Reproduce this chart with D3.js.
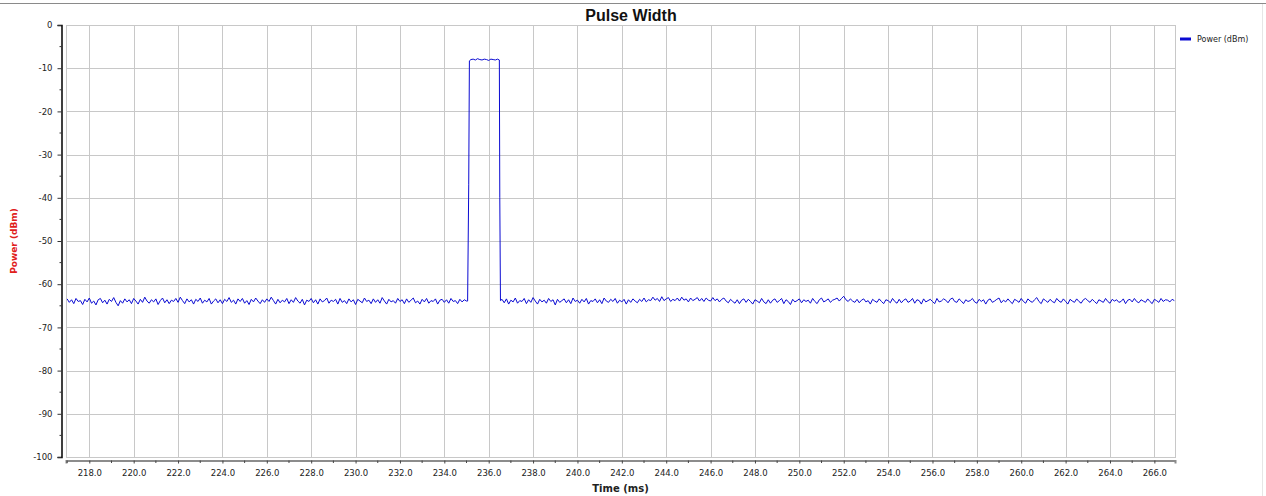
<!DOCTYPE html>
<html>
<head>
<meta charset="utf-8">
<script src="https://cdn.jsdelivr.net/npm/d3@7/dist/d3.min.js"></script>
<style>
  html, body { margin: 0; padding: 0; background: #fff; }
  svg { display: block; }
</style>
</head>
<body>
<svg id="chart" width="1266" height="496"></svg>
<script>
// ---------------- DATA ----------------
const chartTitle = "Pulse Width";
const xTitle = "Time (ms)";
const yTitle = "Power (dBm)";
const seriesName = "Power (dBm)";

const xTickValues = [218, 220, 222, 224, 226, 228, 230, 232, 234, 236, 238, 240, 242, 244, 246, 248, 250, 252, 254, 256, 258, 260, 262, 264, 266];
const yTickValues = [0, -10, -20, -30, -40, -50, -60, -70, -80, -90, -100];

// Noise floor before the pulse: samples every 0.1 ms from 217.0 ms
const beforeStart = 217.0;
const sampleStep = 0.1;
const powerBefore = [
-63.4,-64.2,-63.6,-64.5,-63.3,-64.0,-63.8,-64.7,-63.5,-64.1,
-63.2,-64.4,-63.9,-64.8,-63.6,-63.3,-64.3,-63.7,-64.6,-63.5,
-64.0,-63.1,-64.2,-65.0,-63.8,-64.4,-63.4,-64.1,-63.6,-64.5,
-63.3,-63.9,-64.6,-63.5,-64.2,-63.0,-63.9,-64.4,-63.6,-64.1,
-63.4,-64.7,-63.8,-63.2,-64.3,-63.6,-64.5,-63.7,-64.0,-63.3,
-64.2,-63.0,-63.8,-64.5,-63.4,-64.1,-63.6,-64.6,-63.5,-64.0,
-63.2,-64.4,-63.7,-64.1,-63.3,-64.6,-63.9,-63.4,-64.3,-63.6,
-64.5,-63.5,-64.0,-63.1,-64.2,-63.7,-64.6,-63.4,-64.0,-63.3,
-64.4,-63.8,-64.7,-63.5,-64.1,-63.2,-63.9,-64.5,-63.6,-64.2,
-63.4,-64.0,-63.0,-63.8,-64.6,-63.5,-64.3,-63.7,-64.1,-63.3,
-64.5,-63.6,-64.2,-63.1,-63.9,-64.4,-63.5,-64.8,-63.7,-64.0,
-63.3,-64.3,-63.6,-64.6,-63.4,-64.1,-63.8,-63.2,-64.4,-63.7,
-64.0,-63.5,-64.6,-63.3,-64.2,-63.8,-64.5,-63.4,-64.1,-63.6,
-64.7,-63.5,-63.9,-64.3,-63.2,-64.0,-63.7,-64.5,-63.4,-64.2,
-63.6,-64.4,-63.1,-63.9,-64.6,-63.5,-64.1,-63.8,-64.4,-63.3,
-64.0,-63.6,-64.5,-63.4,-64.2,-63.7,-63.2,-64.3,-63.9,-64.6,
-63.5,-64.1,-63.3,-64.4,-63.8,-64.0,-63.4,-64.6,-63.7,-63.5,
-64.2,-63.6,-64.4,-63.3,-64.0,-63.8,-64.5,-63.5,-64.1,-63.6,
-63.9
];

// The pulse itself (edges and flat top)
const pulseTime  = [235.05, 235.10, 235.13, 235.2, 235.3, 235.4, 235.5, 235.6, 235.7, 235.8, 235.9, 236.0, 236.1, 236.2, 236.3, 236.4, 236.48, 236.50, 236.53];
const pulsePower = [-63.9, -37.0, -8.3, -8.0, -7.9, -8.1, -7.8, -8.0, -8.1, -7.9, -8.0, -8.2, -7.9, -8.0, -8.1, -7.9, -8.1, -40.0, -63.8];

// Noise floor after the pulse: samples every 0.1 ms from 236.6 ms
const afterStart = 236.6;
const powerAfter = [
-63.5,-64.3,-63.4,-64.6,-63.7,-64.1,-63.2,-64.4,-63.8,-64.0,
-63.3,-64.5,-63.6,-64.2,-63.1,-63.9,-64.6,-63.5,-64.1,-63.7,
-64.4,-63.3,-64.0,-63.6,-64.8,-63.5,-64.2,-63.8,-63.4,-64.3,
-63.6,-64.5,-63.2,-64.0,-63.7,-64.4,-63.5,-64.1,-63.3,-64.6,
-63.8,-64.0,-63.4,-64.3,-63.6,-64.5,-63.2,-63.9,-64.2,-63.5,
-64.0,-63.3,-64.4,-63.7,-64.1,-63.5,-64.6,-63.6,-64.2,-63.4,
-63.9,-64.3,-63.5,-64.0,-63.2,-64.1,-63.6,-63.8,-63.0,-63.7,
-63.3,-64.0,-62.9,-63.8,-63.4,-63.1,-64.0,-63.5,-63.8,-63.2,
-63.9,-63.0,-63.7,-63.4,-64.1,-63.2,-63.8,-63.5,-63.1,-63.9,
-63.3,-64.0,-63.2,-63.7,-63.9,-63.1,-63.8,-63.4,-64.1,-63.5,
-63.2,-63.9,-64.3,-63.5,-64.0,-64.4,-63.6,-64.5,-63.7,-63.4,
-64.2,-63.5,-64.0,-64.6,-63.6,-63.9,-64.3,-63.3,-64.1,-64.5,
-63.6,-64.4,-63.7,-63.4,-64.2,-63.8,-63.3,-64.5,-63.6,-64.0,
-64.7,-63.5,-64.1,-63.8,-63.4,-64.3,-63.6,-64.0,-63.7,-64.4,
-63.3,-64.0,-64.5,-63.6,-63.2,-64.1,-63.8,-63.4,-64.2,-63.7,
-63.5,-63.2,-63.9,-63.3,-62.8,-63.6,-64.0,-63.4,-63.9,-64.2,
-63.5,-64.3,-63.7,-63.4,-64.1,-63.8,-64.6,-63.5,-63.9,-64.2,
-63.4,-64.0,-64.5,-63.6,-63.8,-64.3,-63.3,-64.0,-64.4,-63.5,
-64.3,-63.7,-63.4,-64.2,-63.9,-63.3,-64.4,-63.6,-63.8,-64.6,
-63.4,-64.1,-63.8,-63.5,-64.0,-64.5,-63.3,-64.1,-63.9,-63.4,
-63.7,-64.3,-63.5,-63.2,-64.0,-64.2,-63.4,-63.9,-64.5,-63.6,
-64.0,-63.8,-63.3,-64.1,-64.4,-63.5,-64.0,-63.6,-64.6,-63.7,
-63.4,-64.2,-63.9,-63.5,-63.2,-64.3,-63.7,-64.1,-63.4,-64.0,
-64.5,-63.5,-63.8,-64.2,-63.3,-64.0,-64.4,-63.4,-63.9,-64.2,
-63.6,-63.1,-64.0,-64.5,-63.4,-63.8,-64.2,-63.5,-64.0,-64.3,
-63.3,-63.9,-64.2,-63.4,-64.0,-64.6,-63.5,-63.9,-64.2,-63.4,
-64.0,-64.4,-63.6,-63.3,-63.8,-64.2,-63.5,-64.0,-64.5,-63.6,
-63.9,-64.2,-63.3,-64.0,-64.4,-63.5,-63.9,-63.6,-64.2,-64.0,
-63.4,-64.5,-63.7,-63.5,-64.1,-63.3,-64.0,-64.3,-63.6,-63.9,
-64.2,-63.4,-64.0,-64.5,-63.5,-63.8,-64.2,-63.3,-64.0,-63.6,
-63.7,-64.1,-63.5,-63.8
];

// ---------------- BUILD SERIES ----------------
const points = [];
powerBefore.forEach((p, i) => points.push([beforeStart + i * sampleStep, p]));
pulseTime.forEach((t, i) => points.push([t, pulsePower[i]]));
powerAfter.forEach((p, i) => points.push([afterStart + i * sampleStep, p]));

// ---------------- LAYOUT ----------------
const svg = d3.select("#chart");
const plot = { left: 66, right: 1175, top: 25, bottom: 457 };

const x = d3.scaleLinear().domain([216.95, 266.93]).range([plot.left, plot.right]);
const y = d3.scaleLinear().domain([-100, 0]).range([plot.bottom, plot.top]);

// top rule & right panel edge
svg.append("line").attr("x1", 0).attr("x2", 1266).attr("y1", 3.5).attr("y2", 3.5)
  .attr("stroke", "#8a8a8a").attr("stroke-width", 1);
svg.append("line").attr("x1", 1262.5).attr("x2", 1262.5).attr("y1", 4).attr("y2", 496)
  .attr("stroke", "#e6e6e6").attr("stroke-width", 1);

// grid
const grid = svg.append("g").attr("class", "grid");
grid.selectAll("line.v").data(xTickValues).join("line")
  .attr("x1", d => Math.round(x(d)) + 0.5).attr("x2", d => Math.round(x(d)) + 0.5)
  .attr("y1", plot.top).attr("y2", plot.bottom)
  .attr("stroke", "#c8c8c8").attr("stroke-width", 1);
grid.selectAll("line.h").data(yTickValues.filter(v => v !== 0 && v !== -100)).join("line")
  .attr("x1", plot.left).attr("x2", plot.right)
  .attr("y1", d => Math.round(y(d)) + 0.5).attr("y2", d => Math.round(y(d)) + 0.5)
  .attr("stroke", "#c8c8c8").attr("stroke-width", 1);

// plot frame
svg.append("rect")
  .attr("x", plot.left + 0.5).attr("y", plot.top + 0.5)
  .attr("width", plot.right - plot.left).attr("height", plot.bottom - plot.top)
  .attr("fill", "none").attr("stroke", "#c8c8c8").attr("stroke-width", 1);

// Y axis
const yAxis = d3.axisLeft(y).tickValues(yTickValues).tickFormat(d => String(d)).tickSizeOuter(0).tickSize(4).tickPadding(5);
const gy = svg.append("g").attr("transform", `translate(${61.5},0)`).call(yAxis);
gy.select(".domain").attr("stroke", "#000").attr("stroke-width", 1.5);
gy.selectAll(".tick line").attr("stroke", "#333");
gy.selectAll(".tick text").attr("font-family", "DejaVu Sans").attr("font-size", "8.5px").attr("fill", "#222");
// Y minor ticks
const yMinor = d3.range(-95, 0, 10);
gy.selectAll("line.minor").data(yMinor).join("line")
  .attr("x1", -2).attr("x2", 0)
  .attr("y1", d => y(d)).attr("y2", d => y(d))
  .attr("stroke", "#333");

// X axis
const xAxis = d3.axisBottom(x).tickValues(xTickValues).tickFormat(d3.format(".1f")).tickSizeOuter(0).tickSize(3).tickPadding(6);
const gx = svg.append("g").attr("transform", `translate(0,${460.5})`).call(xAxis);
gx.select(".domain").attr("stroke", "#8c8c8c").attr("stroke-width", 2);
gx.selectAll(".tick line").attr("stroke", "#444");
gx.selectAll(".tick text").attr("font-family", "DejaVu Sans").attr("font-size", "8.5px").attr("fill", "#222");
const xMinor = d3.range(217, 267, 2);
gx.selectAll("line.minor").data(xMinor).join("line")
  .attr("x1", d => x(d)).attr("x2", d => x(d))
  .attr("y1", 0).attr("y2", 2.5)
  .attr("stroke", "#444");

// series line
svg.append("clipPath").attr("id", "clip").append("rect")
  .attr("x", plot.left).attr("y", plot.top).attr("width", plot.right - plot.left).attr("height", plot.bottom - plot.top);
const line = d3.line().x(d => x(d[0])).y(d => y(d[1]));
svg.append("path").datum(points)
  .attr("d", line)
  .attr("fill", "none").attr("stroke", "#0a0ad2").attr("stroke-width", 1)
  .attr("clip-path", "url(#clip)");

// title
svg.append("text").attr("x", 631).attr("y", 21).attr("text-anchor", "middle")
  .attr("font-family", "Liberation Sans, Arial, sans-serif").attr("font-weight", "bold").attr("font-size", "16px")
  .attr("fill", "#111").text(chartTitle);

// axis titles
svg.append("text").attr("x", (plot.left + plot.right) / 2).attr("y", 492).attr("text-anchor", "middle")
  .attr("font-family", "DejaVu Sans").attr("font-weight", "bold").attr("font-size", "10px")
  .attr("fill", "#222").text(xTitle);
svg.append("text").attr("transform", `translate(17,${(plot.top + plot.bottom) / 2}) rotate(-90)`)
  .attr("text-anchor", "middle")
  .attr("font-family", "DejaVu Sans").attr("font-weight", "bold").attr("font-size", "9px")
  .attr("fill", "#e0201c").text(yTitle);

// legend
const lg = svg.append("g").attr("transform", "translate(1180,39)");
lg.append("line").attr("x1", 0).attr("x2", 11).attr("y1", 0).attr("y2", 0)
  .attr("stroke", "#0a0ad2").attr("stroke-width", 3);
lg.append("text").attr("x", 17).attr("y", 3).attr("font-family", "DejaVu Sans").attr("font-size", "8px")
  .attr("fill", "#222").text(seriesName);
</script>
</body>
</html>
